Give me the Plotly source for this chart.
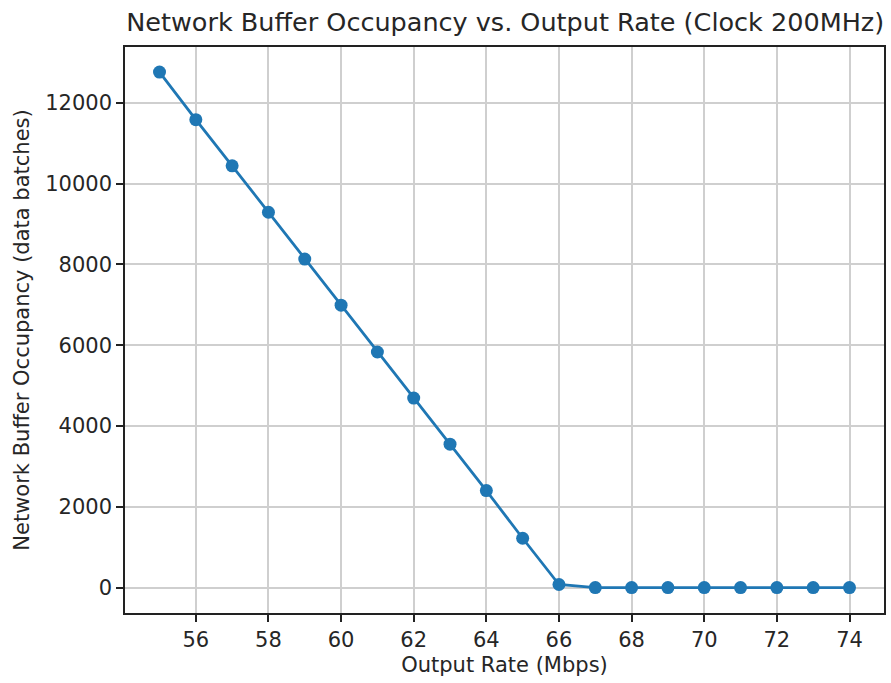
import plotly.graph_objects as go

rates = [55, 56, 57, 58, 59, 60, 61, 62, 63, 64, 65, 66, 67, 68, 69, 70, 71, 72, 73, 74]
occupancy = [12760, 11580, 10440, 9290, 8130, 6990, 5830, 4690, 3550, 2400, 1220, 75, 0, 0, 0, 0, 0, 0, 0, 0]
x_ticks = [56, 58, 60, 62, 64, 66, 68, 70, 72, 74]
y_ticks = [0, 2000, 4000, 6000, 8000, 10000, 12000]
y_tick_labels = ["0", "2000", "4000", "6000", "8000", "10000", "12000"]

font = "DejaVu Sans"
fig = go.Figure()
fig.add_trace(go.Scatter(
    x=rates, y=occupancy, mode="lines+markers",
    line=dict(color="#1f77b4", width=2.8),
    marker=dict(color="#1f77b4", size=13),
    showlegend=False,
))

axis_common = dict(
    showline=True, linecolor="#222222", linewidth=1.6, mirror=True,
    showgrid=True, gridcolor="#cfcfcf", gridwidth=1.5,
    ticks="outside", ticklen=7, tickwidth=1.5, tickcolor="#222222",
    zeroline=False,
    tickfont=dict(family=font, size=21, color="#262626"),
)

fig.update_layout(
    width=891, height=683,
    margin=dict(l=125, r=5, t=47, b=70),
    paper_bgcolor="white", plot_bgcolor="white",
    title=dict(
        text="Network Buffer Occupancy vs. Output Rate (Clock 200MHz)",
        font=dict(family=font, size=25.5, color="#262626"),
        x=0.567, xanchor="center", y=0.968, yanchor="middle",
    ),
    xaxis=dict(
        range=[54.05, 74.95], tickvals=x_ticks,
        title=dict(text="Output Rate (Mbps)", font=dict(family=font, size=21, color="#262626"), standoff=6),
        **axis_common,
    ),
    yaxis=dict(
        range=[-630, 13380], tickvals=y_ticks, ticktext=y_tick_labels,
        title=dict(text="Network Buffer Occupancy (data batches)", font=dict(family=font, size=21, color="#262626"), standoff=10),
        **axis_common,
    ),
)

fig.write_html("out.html")
